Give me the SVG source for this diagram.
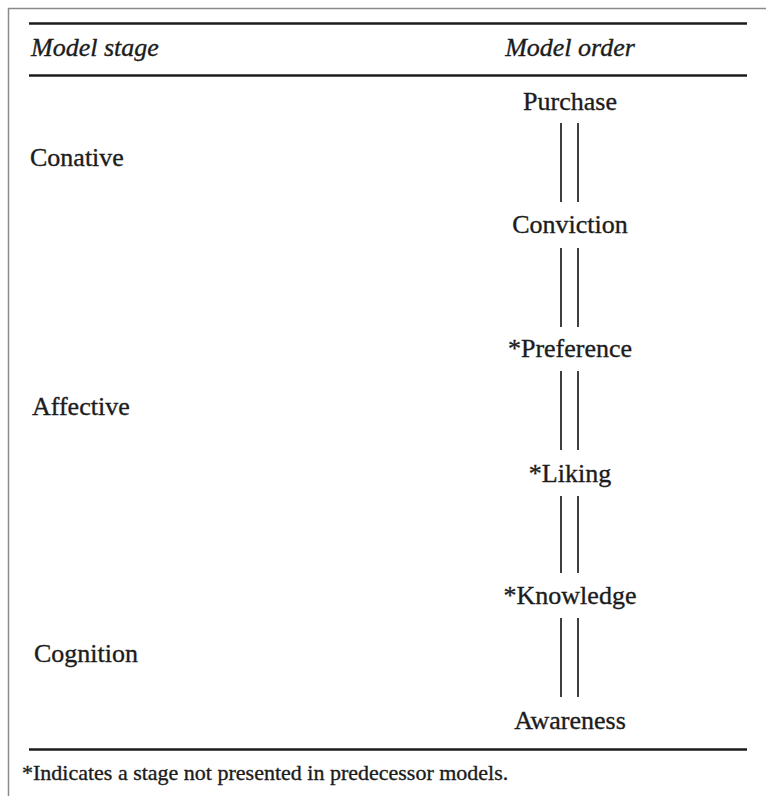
<svg xmlns="http://www.w3.org/2000/svg" width="766" height="796" viewBox="0 0 766 796">
<style>
text{font-family:"Liberation Serif","Times New Roman",serif;fill:#1c1c1c;stroke:#1c1c1c;stroke-width:0.35;font-size:26px}
.h{font-style:italic}
.m{text-anchor:middle}
.rule{stroke:#1c1c1c;stroke-width:2.4}
.frame{stroke:#8a8a8a;stroke-width:1.5;fill:none}
.dl{stroke:#2a2a2a;stroke-width:1.8}
.fn{font-size:22px}
</style>
<rect width="766" height="796" fill="#ffffff"/>
<path class="frame" d="M8.5,796 V8.5 H766"/>
<g id="rules">
<line class="rule" x1="29" y1="23.5" x2="747" y2="23.5"/>
<line class="rule" x1="29" y1="75.5" x2="747" y2="75.5"/>
<line class="rule" x1="29" y1="749.5" x2="747" y2="749.5"/>
</g>
<g id="header">
<text class="h" x="31" y="56">Model stage</text>
<text class="h m" x="570" y="56">Model order</text>
</g>
<g id="stages">
<g id="conative"><text x="30" y="166">Conative</text></g>
<g id="affective"><text x="32" y="415">Affective</text></g>
<g id="cognition"><text x="34" y="662">Cognition</text></g>
</g>
<g id="purchase"><text class="m" x="570" y="110">Purchase</text></g>
<g id="conviction"><text class="m" x="570" y="233">Conviction</text></g>
<g id="preference"><text class="m" x="570" y="357">*Preference</text></g>
<g id="liking"><text class="m" x="570" y="482">*Liking</text></g>
<g id="knowledge"><text class="m" x="570" y="604">*Knowledge</text></g>
<g id="awareness"><text class="m" x="570" y="729">Awareness</text></g>
<g id="connectors">
<path class="dl" d="M561,123 V202 M578,123 V202"/>
<path class="dl" d="M561,248 V327 M578,248 V327"/>
<path class="dl" d="M561,371 V450 M578,371 V450"/>
<path class="dl" d="M561,496 V573 M578,496 V573"/>
<path class="dl" d="M561,618 V697 M578,618 V697"/>
</g>
<g id="footnote"><text class="fn" x="22" y="780">*Indicates a stage not presented in predecessor models.</text></g>
</svg>
